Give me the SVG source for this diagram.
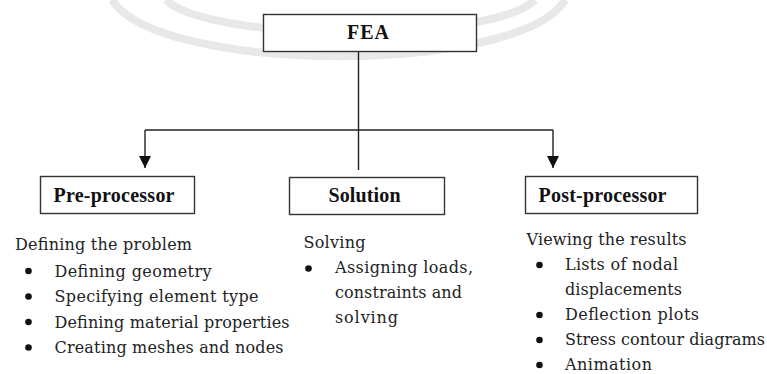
<svg xmlns="http://www.w3.org/2000/svg" width="767" height="374" viewBox="0 0 767 374">
<style>
.box{fill:#fff;stroke:#333;stroke-width:1.4}
.lbl{font-family:"Liberation Serif","DejaVu Serif",serif;font-weight:bold;font-size:20px;fill:#111}
.txt{font-family:"DejaVu Serif","Liberation Serif",serif;font-size:16px;fill:#222}
.wm{fill:none;stroke:#e8e8e8;stroke-width:8}
.ln{fill:none;stroke:#222;stroke-width:1.4}
.bul{fill:#111}
</style>
<defs>
<marker id="arr" markerUnits="userSpaceOnUse" markerWidth="12" markerHeight="12" viewBox="0 0 10 10" refX="10" refY="5" orient="auto">
<path d="M0,0 L10,5 L0,10 Z" fill="#111"/>
</marker>
</defs>
<rect width="767" height="374" fill="#fff"/>
<g id="watermark">
<path class="wm" d="M112,0 C160,75 520,75 565,0"/>
<path class="wm" d="M166,0 C210,43 490,43 535,0"/>
</g>
<g id="connectors">
<line class="ln" x1="358.5" y1="52" x2="358.5" y2="170"/>
<line class="ln" x1="145" y1="130" x2="553" y2="130"/>
<line class="ln" x1="145" y1="130" x2="145" y2="168" marker-end="url(#arr)"/>
<line class="ln" x1="553" y1="130" x2="553" y2="168" marker-end="url(#arr)"/>
</g>
<g id="fea">
<rect class="box" x="263.5" y="14.5" width="213" height="37"/>
<text class="lbl" x="347" y="39" textLength="42">FEA</text>
</g>
<g id="pre">
<rect class="box" x="40.5" y="176.5" width="154" height="37"/>
<text class="lbl" x="53.5" y="202" textLength="121">Pre-processor</text>
</g>
<g id="solution">
<rect class="box" x="289.5" y="177.5" width="155" height="37"/>
<text class="lbl" x="328.5" y="202" textLength="72">Solution</text>
</g>
<g id="post">
<rect class="box" x="525.5" y="176.5" width="172" height="37"/>
<text class="lbl" x="538.5" y="202" textLength="128">Post-processor</text>
</g>
<g id="pre-list">
<text class="txt" x="15" y="250" textLength="177">Defining the problem</text>
<circle class="bul" cx="28.5" cy="271" r="3.3"/>
<text class="txt" x="54.5" y="276.5" textLength="157">Defining geometry</text>
<circle class="bul" cx="28.5" cy="296.5" r="3.3"/>
<text class="txt" x="54.5" y="302" textLength="204">Specifying element type</text>
<circle class="bul" cx="28.5" cy="322" r="3.3"/>
<text class="txt" x="54.5" y="327.5" textLength="235">Defining material properties</text>
<circle class="bul" cx="28.5" cy="347.5" r="3.3"/>
<text class="txt" x="54.5" y="353" textLength="229">Creating meshes and nodes</text>
</g>
<g id="solution-list">
<text class="txt" x="303.5" y="248" textLength="62">Solving</text>
<circle class="bul" cx="308.5" cy="268.5" r="3.3"/>
<text class="txt" x="335" y="273" textLength="138">Assigning loads,</text>
<text class="txt" x="335" y="298" textLength="127">constraints and</text>
<text class="txt" x="335" y="323" textLength="63">solving</text>
</g>
<g id="post-list">
<text class="txt" x="526.5" y="245" textLength="160">Viewing the results</text>
<circle class="bul" cx="539.5" cy="265" r="3.3"/>
<text class="txt" x="565" y="270" textLength="113">Lists of nodal</text>
<text class="txt" x="565" y="294.5" textLength="117">displacements</text>
<circle class="bul" cx="539.5" cy="315" r="3.3"/>
<text class="txt" x="565" y="320" textLength="134">Deflection plots</text>
<circle class="bul" cx="539.5" cy="340" r="3.3"/>
<text class="txt" x="565" y="345" textLength="200">Stress contour diagrams</text>
<circle class="bul" cx="539.5" cy="365" r="3.3"/>
<text class="txt" x="565" y="370" textLength="87">Animation</text>
</g>
</svg>
